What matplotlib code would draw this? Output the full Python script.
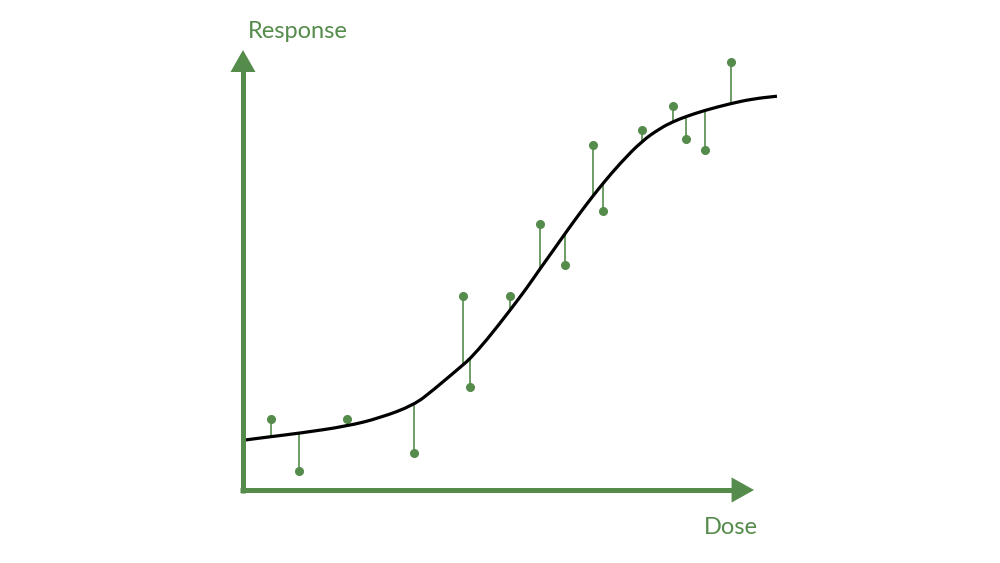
"""Dose-response sketch: fitted sigmoid with residuals of observed points."""

import matplotlib.pyplot as plt
import numpy as np
from matplotlib.path import Path
from matplotlib.patches import PathPatch

GREEN = "#558B4B"

# Observed points (dose, response)
dose = [0.54, 1.10, 2.04, 3.35, 4.31, 4.45, 5.24, 5.82,
        6.31, 6.86, 7.06, 7.82, 8.44, 8.69, 9.06, 9.56]
response = [1.61, 0.43, 1.61, 0.84, 4.41, 2.34, 4.41, 6.05,
            5.11, 7.84, 6.35, 8.19, 8.73, 7.97, 7.72, 9.73]

# Fitted curve
curve_dose = [0.00, 0.53, 1.10, 2.04, 2.69, 3.35, 3.73, 4.31, 4.45, 4.78,
              5.24, 5.57, 5.82, 6.08, 6.31, 6.61, 6.86, 7.06, 7.39, 7.82,
              8.18, 8.43, 8.69, 9.06, 9.55, 10.00, 10.47]
curve_response = [1.13, 1.21, 1.29, 1.45, 1.64, 1.93, 2.27, 2.84, 2.98, 3.41,
                  4.09, 4.60, 5.02, 5.44, 5.82, 6.30, 6.68, 6.97, 7.42, 7.93,
                  8.22, 8.37, 8.49, 8.63, 8.78, 8.89, 8.95]


def smooth_path(xs, ys):
    """Quadratic bezier through the midpoints, control points at the samples."""
    pts = np.column_stack([xs, ys])
    verts = [pts[0], (pts[0] + pts[1]) / 2]
    codes = [Path.MOVETO, Path.LINETO]
    for i in range(1, len(pts) - 1):
        verts += [pts[i], (pts[i] + pts[i + 1]) / 2]
        codes += [Path.CURVE3, Path.CURVE3]
    verts.append(pts[-1])
    codes.append(Path.LINETO)
    return Path(verts, codes)


fig = plt.figure(figsize=(10, 5.63), dpi=100)
# origin of the axes at pixel (243, 490), arrows end at 10 units
ax = fig.add_axes([0.243, 73 / 563, 0.510, 440 / 563])
ax.set_xlim(0, 10)
ax.set_ylim(0, 10)
ax.axis("off")

# residual stems
fitted = np.interp(dose, curve_dose, curve_response)
ax.vlines(dose, response, fitted, color=GREEN, linewidth=1.2, zorder=2,
          clip_on=False)
ax.plot(dose, response, "o", color=GREEN, markersize=5.5, zorder=3,
        clip_on=False)

# fitted curve
ax.add_patch(PathPatch(smooth_path(curve_dose, curve_response),
                       facecolor="none", edgecolor="black", linewidth=2.3,
                       zorder=4, clip_on=False))

# axes arrows: shafts and filled heads
ax.plot([0, 0], [-0.06, 9.52], color=GREEN, linewidth=3.6,
        solid_capstyle="butt", zorder=5, clip_on=False)
ax.plot([-0.05, 9.6], [0, 0], color=GREEN, linewidth=3.6,
        solid_capstyle="butt", zorder=5, clip_on=False)
ax.fill([-0.245, 0.245, 0], [9.5, 9.5, 10.0], color=GREEN, lw=0,
        zorder=5, clip_on=False)
ax.fill([9.58, 9.58, 10.02], [-0.285, 0.285, 0], color=GREEN, lw=0,
        zorder=5, clip_on=False)

fig.text(0.298, 1 - 32 / 563, "Response", color=GREEN, fontsize=17,
         family="Lato", ha="center", va="center")
fig.text(0.731, 1 - 527 / 563, "Dose", color=GREEN, fontsize=17,
         family="Lato", ha="center", va="center")

fig.savefig("out.png", dpi=100)
